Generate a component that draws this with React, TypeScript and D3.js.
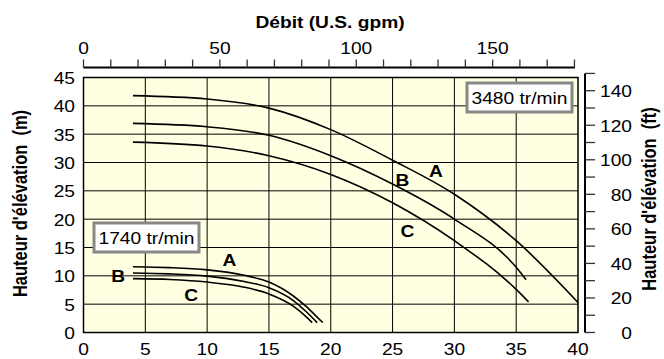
import React from "react";
import * as d3 from "d3";

// ---- axis ticks / labels ----
const bottomTicks = [0, 5, 10, 15, 20, 25, 30, 35, 40];
const leftTicks = [0, 5, 10, 15, 20, 25, 30, 35, 40, 45];
const topMinorTicks = [0, 10, 20, 30, 40, 50, 60, 70, 80, 90, 100, 110, 120, 130, 140, 150, 160, 170, 180];
const topLabels = [0, 50, 100, 150];
const rightMinorTicks = [0, 10, 20, 30, 40, 50, 60, 70, 80, 90, 100, 110, 120, 130, 140, 150];
const rightLabels = [0, 20, 40, 60, 80, 100, 120, 140];

// ---- pump curves (débit m³/h, hauteur m) ----
const hi_A_x = [4, 10, 15, 20, 25, 30, 35, 40];
const hi_A_y = [41.8, 41.2, 39.6, 35.8, 30.4, 24.4, 16.2, 5.3];
const hi_B_x = [4, 10, 15, 20, 25, 30, 35, 35.8];
const hi_B_y = [36.9, 36.3, 34.8, 31.2, 26.2, 20.0, 11.5, 9.3];
const hi_C_x = [4, 10, 15, 20, 25, 30, 35, 36];
const hi_C_y = [33.6, 32.9, 31.2, 27.9, 22.9, 16.2, 7.6, 5.4];

const lo_A_x = [4, 7, 10, 13, 15, 17, 18, 19, 19.35];
const lo_A_y = [11.6, 11.45, 11.05, 10.1, 8.9, 6.4, 4.6, 2.5, 1.75];
const lo_B_x = [4, 7, 10, 13, 15, 17, 18, 18.9];
const lo_B_y = [10.5, 10.35, 9.95, 9.0, 7.9, 5.6, 3.7, 1.75];
const lo_C_x = [4, 7, 10, 13, 15, 17, 18, 18.5];
const lo_C_y = [9.5, 9.35, 8.9, 8.0, 6.8, 4.6, 2.8, 1.75];

const curveLabels = [
  { t: "A", x: 28.5, y: 28.5 },
  { t: "B", x: 25.8, y: 26.9 },
  { t: "C", x: 26.2, y: 17.9 },
  { t: "A", x: 11.8, y: 12.8 },
  { t: "B", x: 2.8, y: 10.0 },
  { t: "C", x: 8.7, y: 6.6 },
];

const speedLabels = ["3480 tr/min", "1740 tr/min"];

const W = 664;
const H = 359;
const FONT = "'Liberation Sans', Arial, Helvetica, sans-serif";
const SX = 1.2;

export default function App() {
  const x = d3.scaleLinear().domain([0, 40]).range([83.5, 578]);
  const y = d3.scaleLinear().domain([0, 45]).range([332.5, 77.5]);
  const xGpm = d3.scaleLinear().domain([0, 181.3]).range([83.5, 578]);
  const yFt = d3.scaleLinear().domain([0, 147.64]).range([332.5, 77.5]);

  const line = d3
    .line<[number, number]>()
    .x((d) => x(d[0]))
    .y((d) => y(d[1]))
    .curve(d3.curveMonotoneX);

  const series = [
    [hi_A_x, hi_A_y],
    [hi_B_x, hi_B_y],
    [hi_C_x, hi_C_y],
    [lo_A_x, lo_A_y],
    [lo_B_x, lo_B_y],
    [lo_C_x, lo_C_y],
  ].map(([xs, ys]) => xs.map((v, i) => [v, ys[i]] as [number, number]));

  const T = (
    px: number,
    py: number,
    txt: string | number,
    anchor: string,
    opts: { bold?: boolean; size?: number; key?: string } = {}
  ) => (
    <text
      key={opts.key}
      transform={`translate(${px},${py}) scale(${SX},1)`}
      textAnchor={anchor}
      fontFamily={FONT}
      fontSize={opts.size ?? 16}
      fontWeight={opts.bold ? "bold" : "normal"}
      fill="#000"
    >
      {txt}
    </text>
  );

  return (
    <div style={{ position: "absolute", left: 0, top: 0 }}>
      <svg width={W} height={H} style={{ display: "block" }}>
        <rect x={0} y={0} width={W} height={H} fill="#fff" />
        {/* plot background */}
        <rect
          x={x(0)}
          y={y(45)}
          width={x(40) - x(0)}
          height={y(0) - y(45)}
          fill="#FFFFE1"
        />
        {/* grid */}
        {bottomTicks.slice(1, -1).map((t) => (
          <line key={"gx" + t} x1={x(t)} x2={x(t)} y1={y(0)} y2={y(45)} stroke="#000" strokeWidth={1} />
        ))}
        {leftTicks.slice(1, -1).map((t) => (
          <line key={"gy" + t} x1={x(0)} x2={x(40)} y1={y(t)} y2={y(t)} stroke="#000" strokeWidth={1} />
        ))}
        <rect
          x={x(0)}
          y={y(45)}
          width={x(40) - x(0)}
          height={y(0) - y(45)}
          fill="none"
          stroke="#000"
          strokeWidth={1.5}
        />

        {/* curves */}
        {series.map((s, i) => (
          <path key={"c" + i} d={line(s) || ""} fill="none" stroke="#000" strokeWidth={1.6} />
        ))}

        {/* curve labels */}
        {curveLabels.map((l, i) =>
          T(x(l.x), y(l.y) + 6, l.t, "middle", { bold: true, key: "cl" + i })
        )}

        {/* speed boxes */}
        <rect x={467} y={83} width={105} height={29} fill="#fff" stroke="#888" strokeWidth={3} />
        {T(519.5, 103.5, speedLabels[0], "middle", { key: "s0" })}
        <rect x={94} y={223} width={105} height={29} fill="#fff" stroke="#888" strokeWidth={3} />
        {T(146.5, 243.5, speedLabels[1], "middle", { key: "s1" })}

        {/* bottom labels */}
        {bottomTicks.map((t) => T(x(t), 355, t, "middle", { key: "b" + t }))}
        {/* left labels */}
        {leftTicks.map((t) => T(75, y(t) + 6.5, t, "end", { key: "l" + t }))}

        {/* top axis */}
        <line x1={xGpm(0)} x2={xGpm(180) + 0.5} y1={67.5} y2={67.5} stroke="#000" strokeWidth={2} />
        {topMinorTicks.map((t) => (
          <line key={"tt" + t} x1={xGpm(t)} x2={xGpm(t)} y1={59.5} y2={67.5} stroke="#333" strokeWidth={1.3} />
        ))}
        {topLabels.map((t) => T(xGpm(t), 53.5, t, "middle", { key: "tl" + t }))}
        {T(330, 28, "Débit (U.S. gpm)", "middle", { bold: true, key: "ttl" })}

        {/* right axis */}
        <line x1={585} x2={585} y1={yFt(150)} y2={y(0)} stroke="#000" strokeWidth={2} />
        {rightMinorTicks.map((t) => (
          <line key={"rt" + t} x1={585} x2={595} y1={yFt(t)} y2={yFt(t)} stroke="#333" strokeWidth={1.3} />
        ))}
        {rightLabels.map((t) => T(632, yFt(t) + 6.5, t, "end", { key: "rl" + t }))}

        {/* axis titles */}
        <text
          transform={`translate(26.5,203.5) scale(${SX},1) rotate(-90)`}
          textAnchor="middle"
          fontFamily={FONT}
          fontSize={16.5}
          fontWeight="bold"
          style={{ whiteSpace: "pre" }}
        >
          {"Hauteur d'élévation  (m)"}
        </text>
        <text
          transform={`translate(656,199) scale(${SX},1) rotate(-90)`}
          textAnchor="middle"
          fontFamily={FONT}
          fontSize={16.5}
          fontWeight="bold"
          style={{ whiteSpace: "pre" }}
        >
          {"Hauteur d'élévation  (ft)"}
        </text>
      </svg>
    </div>
  );
}
